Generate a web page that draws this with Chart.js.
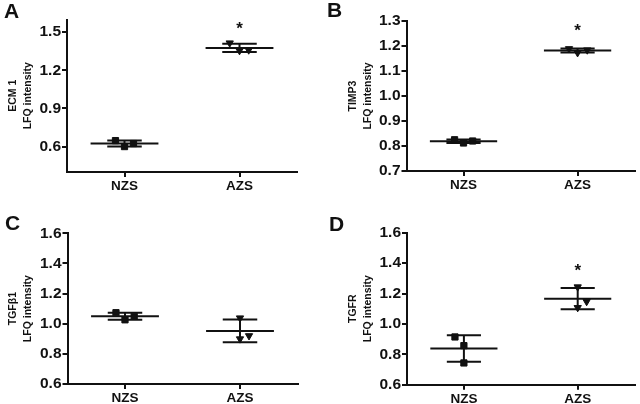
<!DOCTYPE html>
<html>
<head>
<meta charset="utf-8">
<script src="https://cdn.jsdelivr.net/npm/chart.js@4.4.0/dist/chart.umd.min.js"></script>
<style>
    body { margin: 0; background: #fff; }
    .panel { position: absolute; width: 320px; height: 202px; }
</style>
</head>
<body>
<div class="panel" style="left:0;top:0"><canvas id="chartA"></canvas></div>
<div class="panel" style="left:320px;top:0"><canvas id="chartB"></canvas></div>
<div class="panel" style="left:0;top:202px"><canvas id="chartC"></canvas></div>
<div class="panel" style="left:320px;top:202px"><canvas id="chartD"></canvas></div>
<script>
var groups = ['NZS', 'AZS'];
var groupPos = [1, 3];

// LFQ intensities, three animals per group
var ecmNZS = [0.647, 0.600, 0.624];
var ecmAZS = [1.415, 1.355, 1.360];
var timpNZS = [0.825, 0.812, 0.820];
var timpAZS = [1.189, 1.173, 1.184];
var tgfb1NZS = [1.073, 1.026, 1.049];
var tgfb1AZS = [1.038, 0.899, 0.920];
var tgfrNZS = [0.914, 0.857, 0.743];
var tgfrAZS = [1.243, 1.107, 1.147];

// significance marks (null = none)
var ecmStar = [null, 1.558];
var timpStar = [null, 1.28];
var tgfb1Star = [null, null];
var tgfrStar = [null, 1.379];

// y axis ticks
var ecmTicks = [0.6, 0.9, 1.2, 1.5];
var timpTicks = [0.7, 0.8, 0.9, 1.0, 1.1, 1.2, 1.3];
var tgfTicks = [0.6, 0.8, 1.0, 1.2, 1.4, 1.6];

// horizontal scatter of the dots
var jitA = [[-0.157, 0, 0.157], [-0.17, 0, 0.16]];
var jitB = [[-0.157, 0, 0.16], [-0.15, 0, 0.17]];
var jitC = [[-0.157, 0, 0.16], [0, 0, 0.157]];
var jitD = [[-0.157, 0, 0], [0, 0, 0.157]];

var ink = '#111';
var family = '"Liberation Sans", Arial, Helvetica, sans-serif';
Chart.defaults.font.family = family;

function meanOf(v) {
    return v.reduce(function (a, b) { return a + b; }, 0) / v.length;
}
function sdOf(v) {
    var m = meanOf(v);
    return Math.sqrt(v.reduce(function (a, b) { return a + (b - m) * (b - m); }, 0) / (v.length - 1));
}

const statLines = {
    id: 'statLines',
    beforeDatasetsDraw(chart, args, opts) {
        const { ctx, scales: { x, y } } = chart;
        ctx.save();
        ctx.strokeStyle = ink;
        ctx.lineWidth = 2;
        function seg(x0, y0, x1, y1) {
            ctx.beginPath();
            ctx.moveTo(x.getPixelForValue(x0), y.getPixelForValue(y0));
            ctx.lineTo(x.getPixelForValue(x1), y.getPixelForValue(y1));
            ctx.stroke();
        }
        opts.sets.forEach(function (vals, i) {
            var c = groupPos[i], m = meanOf(vals), s = sdOf(vals);
            seg(c - 0.59, m, c + 0.59, m);
            seg(c - 0.3, m + s, c + 0.3, m + s);
            seg(c - 0.3, m - s, c + 0.3, m - s);
            seg(c, m - s, c, m + s);
        });
        ctx.restore();
    },
    afterDraw(chart, args, opts) {
        const { ctx, scales: { x, y } } = chart;
        ctx.save();
        ctx.fillStyle = ink;
        ctx.textAlign = 'center';
        ctx.textBaseline = 'alphabetic';
        ctx.font = 'bold 17px ' + family;
        opts.stars.forEach(function (v, i) {
            if (v === null) return;
            ctx.fillText('*', x.getPixelForValue(groupPos[i]), y.getPixelForValue(v) + 9.5);
        });
        ctx.textAlign = 'left';
        ctx.font = 'bold 21px ' + family;
        ctx.fillText(opts.letter, opts.letterX, opts.letterY);
        ctx.restore();
    }
};

function makePanel(id, p) {
    var datasets = [
        {
            data: p.nzs.map(function (v, i) { return { x: groupPos[0] + p.jit[0][i], y: v }; }),
            pointStyle: 'rect',
            pointRadius: 4.4,
            backgroundColor: ink,
            borderColor: ink,
            borderWidth: 1
        },
        {
            data: p.azs.map(function (v, i) { return { x: groupPos[1] + p.jit[1][i], y: v }; }),
            pointStyle: 'triangle',
            rotation: 180,
            pointRadius: 4.2,
            backgroundColor: ink,
            borderColor: ink,
            borderWidth: 1
        }
    ];

    return new Chart(document.getElementById(id), {
        type: 'scatter',
        data: { datasets: datasets },
        options: {
            responsive: true,
            maintainAspectRatio: false,
            animation: false,
            layout: { padding: { left: 0, right: p.right, top: p.top, bottom: 0 } },
            plugins: {
                legend: { display: false },
                tooltip: { enabled: false },
                statLines: {
                    sets: [p.nzs, p.azs],
                    stars: p.stars,
                    letter: p.letter,
                    letterX: p.letterX,
                    letterY: p.letterY
                }
            },
            scales: {
                x: {
                    type: 'linear',
                    min: 0,
                    max: 4,
                    afterBuildTicks: function (s) {
                        s.ticks = groupPos.map(function (v) { return { value: v }; });
                    },
                    afterFit: function (s) { s.height = p.xHeight; },
                    ticks: {
                        autoSkip: false,
                        maxRotation: 0,
                        padding: 1,
                        color: ink,
                        font: { size: 13.5, weight: 'bold' },
                        callback: function (v) { return groups[groupPos.indexOf(v)]; }
                    },
                    grid: { drawOnChartArea: false, tickLength: 5, color: ink, lineWidth: 2 },
                    border: { color: ink, width: 2 }
                },
                y: {
                    min: p.min,
                    max: p.max,
                    afterBuildTicks: function (s) {
                        s.ticks = p.ticks.map(function (v) { return { value: v }; });
                    },
                    afterFit: function (s) { s.width = p.yWidth; },
                    ticks: {
                        padding: 1,
                        color: ink,
                        font: { size: 15.5, weight: 'bold' },
                        callback: function (v) { return v.toFixed(1); }
                    },
                    grid: { drawOnChartArea: false, tickLength: 5, color: ink, lineWidth: 2 },
                    border: { color: ink, width: 2 },
                    title: {
                        display: true,
                        text: [p.name, 'LFQ intensity'],
                        color: ink,
                        font: { size: 10.5, weight: 'bold', lineHeight: 1.45 },
                        padding: { top: p.titlePad, bottom: 0 }
                    }
                }
            }
        },
        plugins: [statLines]
    });
}

makePanel('chartA', {
    name: 'ECM 1', nzs: ecmNZS, azs: ecmAZS, jit: jitA, stars: ecmStar,
    min: 0.4, max: 1.6, ticks: ecmTicks,
    yWidth: 67, right: 23, top: 19.5, xHeight: 30, titlePad: 5,
    letter: 'A', letterX: 4, letterY: 18
});
makePanel('chartB', {
    name: 'TIMP3', nzs: timpNZS, azs: timpAZS, jit: jitB, stars: timpStar,
    min: 0.7, max: 1.3, ticks: timpTicks,
    yWidth: 86.5, right: 3.5, top: 21, xHeight: 31, titlePad: 25,
    letter: 'B', letterX: 7, letterY: 17
});
makePanel('chartC', {
    name: 'TGF\u03b21', nzs: tgfb1NZS, azs: tgfb1AZS, jit: jitC, stars: tgfb1Star,
    min: 0.6, max: 1.6, ticks: tgfTicks,
    yWidth: 67.5, right: 22.5, top: 31.3, xHeight: 20, titlePad: 5.5,
    letter: 'C', letterX: 5, letterY: 27.5
});
makePanel('chartD', {
    name: 'TGFR', nzs: tgfrNZS, azs: tgfrAZS, jit: jitD, stars: tgfrStar,
    min: 0.6, max: 1.6, ticks: tgfTicks,
    yWidth: 87, right: 3, top: 30.7, xHeight: 19.3, titlePad: 25.5,
    letter: 'D', letterX: 9, letterY: 28.5
});
</script>
</body>
</html>
